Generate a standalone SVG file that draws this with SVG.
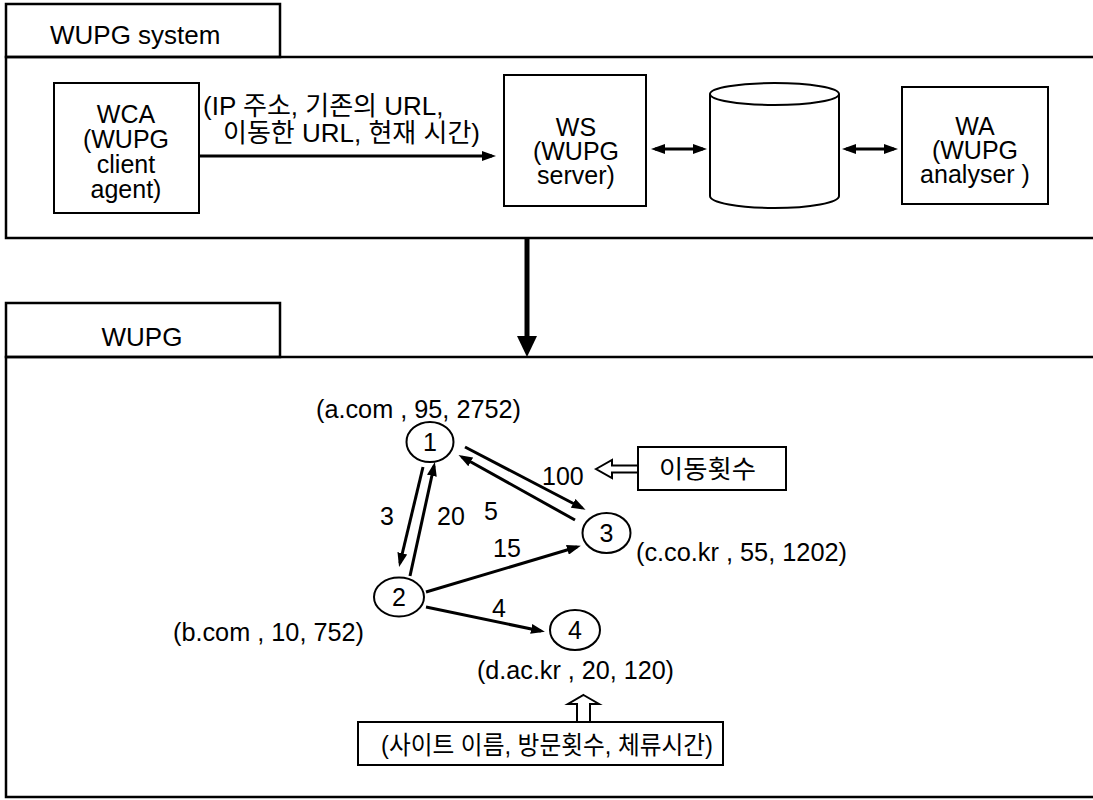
<svg xmlns="http://www.w3.org/2000/svg" width="1093" height="800" viewBox="0 0 1093 800">
  <style>
    .frame { fill: none; stroke: #000; stroke-width: 2.5; }
    .box { fill: #fff; stroke: #000; stroke-width: 2; }
    .node { fill: #fff; stroke: #000; stroke-width: 2; }
    .edge { fill: none; stroke: #000; stroke-width: 3; }
    .hollow { fill: #fff; stroke: #000; stroke-width: 2; stroke-linejoin: miter; }
    text { font-family: "Liberation Sans", "Noto Sans CJK KR", sans-serif; font-size: 25px; fill: #000; }
    .title { font-size: 26px; }
    .msg { font-size: 26px; }
    .mid { text-anchor: middle; }
  </style>
  <defs>
    <marker id="ah" viewBox="0 0 14 10" refX="10" refY="5" markerWidth="14" markerHeight="10" orient="auto-start-reverse" markerUnits="userSpaceOnUse">
      <path d="M0,0 L14,5 L0,10 z" fill="#000"/>
    </marker>
  </defs>

  <rect width="1093" height="800" fill="#fff"/>

  <!-- upper panel: WUPG system -->
  <g id="panel-system">
    <rect class="frame" x="6" y="4" width="274" height="53"/>
    <text class="title" x="50" y="44">WUPG system</text>
    <rect class="frame" x="6" y="57" width="1100" height="181"/>
  </g>

  <g id="wca">
    <rect class="box" x="54" y="83" width="145" height="130"/>
    <text class="mid" x="126" y="123">WCA</text>
    <text class="mid" x="126" y="148">(WUPG</text>
    <text class="mid" x="126" y="173">client</text>
    <text class="mid" x="126" y="198">agent)</text>
  </g>

  <g id="ws">
    <rect class="box" x="504" y="75" width="142" height="131"/>
    <text class="mid" x="576" y="136">WS</text>
    <text class="mid" x="576" y="160">(WUPG</text>
    <text class="mid" x="576" y="184">server)</text>
  </g>

  <g id="db">
    <path class="box" d="M710,94 L710,196 A64.5,12 0 0 0 839,196 L839,94"/>
    <ellipse class="box" cx="774.5" cy="94" rx="64.5" ry="11"/>
  </g>

  <g id="wa">
    <rect class="box" x="902" y="87" width="146" height="117"/>
    <text class="mid" x="975" y="135">WA</text>
    <text class="mid" x="975" y="159">(WUPG</text>
    <text class="mid" x="975" y="183">analyser )</text>
  </g>

  <!-- lower panel: WUPG graph -->
  <g id="panel-graph">
    <rect class="frame" x="6" y="303" width="274" height="54"/>
    <text class="title mid" x="142" y="346">WUPG</text>
    <rect class="frame" x="6" y="357" width="1100" height="440"/>
  </g>

  <g id="node1">
    <ellipse class="node" cx="430" cy="442" rx="23.5" ry="20"/>
    <text class="mid" x="430" y="451">1</text>
    <text x="316" y="418" textLength="205" lengthAdjust="spacingAndGlyphs">(a.com , 95, 2752)</text>
  </g>
  <g id="node2">
    <ellipse class="node" cx="399" cy="597" rx="25" ry="19.5"/>
    <text class="mid" x="399" y="606">2</text>
    <text x="173" y="641" textLength="191" lengthAdjust="spacingAndGlyphs">(b.com , 10, 752)</text>
  </g>
  <g id="node3">
    <ellipse class="node" cx="606.5" cy="533" rx="24" ry="20"/>
    <text class="mid" x="606.5" y="542">3</text>
    <text x="636" y="561" textLength="211" lengthAdjust="spacingAndGlyphs">(c.co.kr , 55, 1202)</text>
  </g>
  <g id="node4">
    <ellipse class="node" cx="575" cy="630" rx="25" ry="20"/>
    <text class="mid" x="575" y="639">4</text>
    <text x="477" y="679" textLength="197" lengthAdjust="spacingAndGlyphs">(d.ac.kr , 20, 120)</text>
  </g>

  <g id="legend-count">
    <polygon class="hollow" points="596,469 612,460 612,465.5 638,465.5 638,472.5 612,472.5 612,478"/>
    <rect class="box" x="638" y="447" width="148" height="43"/>
    <text x="659" y="478" textLength="97" lengthAdjust="spacingAndGlyphs">이동횟수</text>
  </g>

  <g id="legend-site">
    <polygon class="hollow" points="583.5,695 599,704 590,704 590,722 577,722 577,704 568,704"/>
    <rect class="box" x="358" y="722" width="365" height="43"/>
    <text x="381" y="754" textLength="332" lengthAdjust="spacingAndGlyphs">(사이트 이름, 방문횟수, 체류시간)</text>
  </g>

  <!-- connectors -->
  <g id="connectors">
    <line class="edge" x1="200" y1="156" x2="492" y2="156" marker-end="url(#ah)"/>
    <text class="msg" x="203" y="115">(IP 주소, 기존의 URL,</text>
    <text class="msg" x="223" y="142">이동한 URL, 현재 시간)</text>

    <line class="edge" x1="655" y1="149" x2="703" y2="149" marker-start="url(#ah)" marker-end="url(#ah)"/>
    <line class="edge" x1="846" y1="149" x2="894" y2="149" marker-start="url(#ah)" marker-end="url(#ah)"/>

    <line x1="527" y1="238" x2="527" y2="340" stroke="#000" stroke-width="5"/>
    <polygon points="517,336 537,336 527,357" fill="#000"/>

    <line class="edge" x1="465" y1="447" x2="582" y2="508" marker-end="url(#ah)"/>
    <line class="edge" x1="575" y1="520" x2="462" y2="457" marker-end="url(#ah)"/>
    <line class="edge" x1="423" y1="467" x2="400" y2="563" marker-end="url(#ah)"/>
    <line class="edge" x1="410" y1="576" x2="434" y2="466" marker-end="url(#ah)"/>
    <line class="edge" x1="426" y1="592" x2="577" y2="547" marker-end="url(#ah)"/>
    <line class="edge" x1="426" y1="607" x2="541" y2="631" marker-end="url(#ah)"/>

    <text x="542" y="485">100</text>
    <text x="380" y="525">3</text>
    <text x="437" y="525">20</text>
    <text x="484" y="520">5</text>
    <text x="493" y="557">15</text>
    <text x="492" y="617">4</text>
  </g>
</svg>
